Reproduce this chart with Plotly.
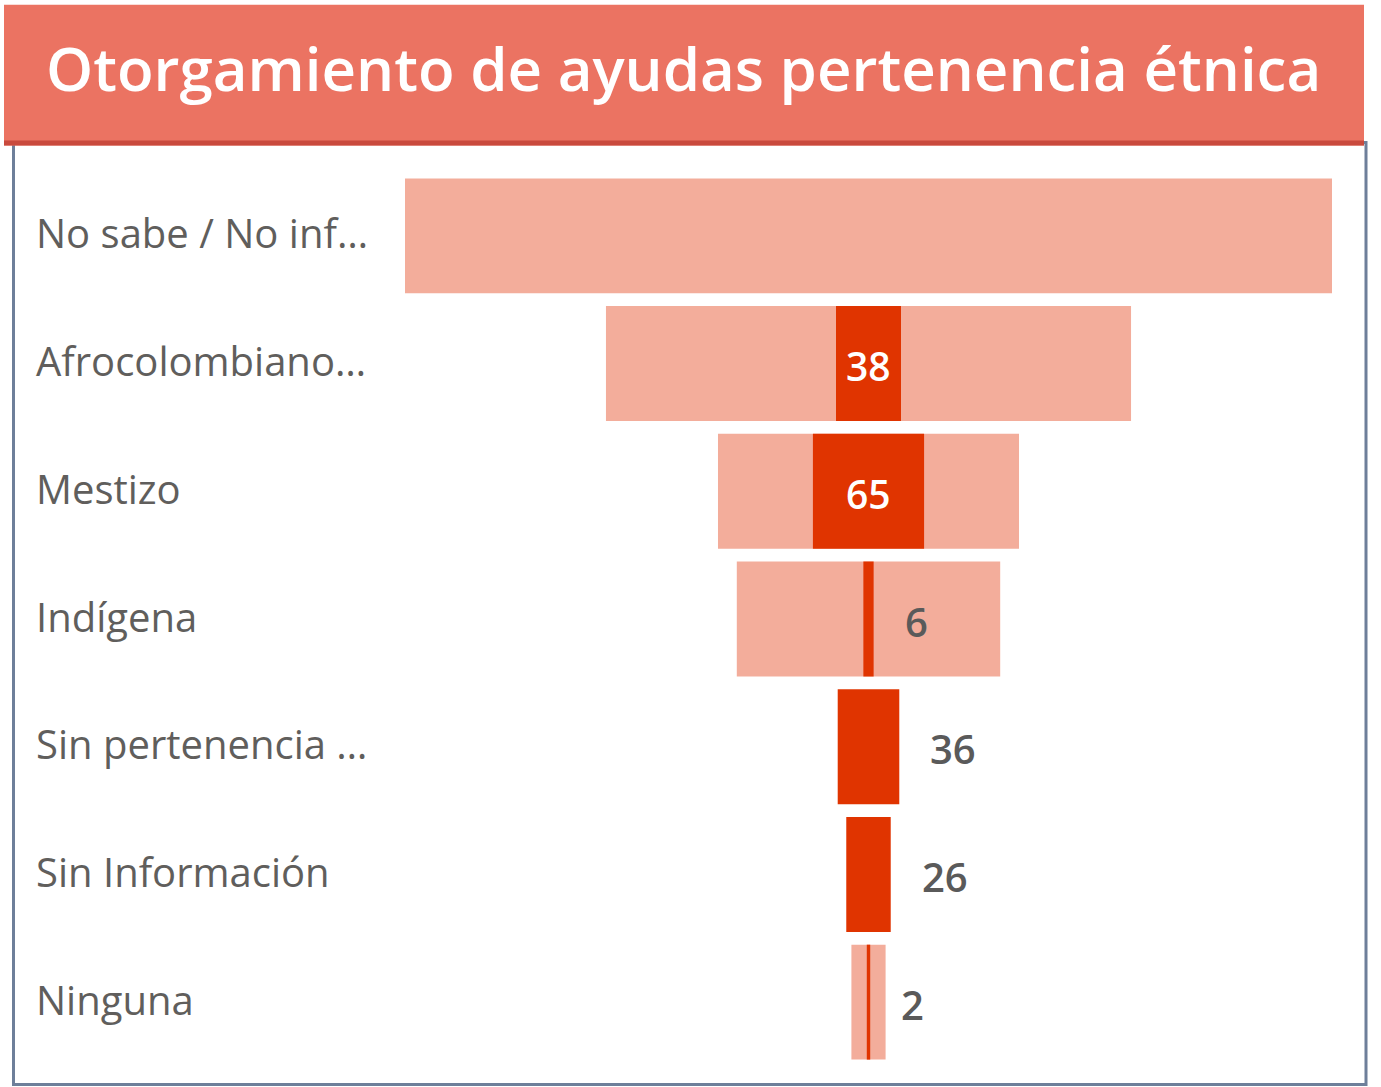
import plotly.graph_objects as go

categories = ["No sabe / No inf…", "Afrocolombiano…", "Mestizo", "Indígena",
              "Sin pertenencia …", "Sin Información", "Ninguna"]
totals = [542, 307, 176, 154, 0, 0, 20]        # light background bars
otorgadas = [0, 38, 65, 6, 36, 26, 2]          # dark foreground bars (labelled)
inside_labels = ["Afrocolombiano…", "Mestizo"]

W, H = 1381, 1087
L, R = 405, 1332          # plot area px
T, B = 171.5, 1066.5

def px(x):
    return (x - L) / (R - L)

def py(y):
    return (B - y) / (B - T)

fig = go.Figure()
fig.add_trace(go.Bar(
    y=categories, x=totals, base=[-v / 2 for v in totals], orientation="h",
    marker=dict(color="#F3AD9B", line=dict(width=0)), width=0.9,
    hoverinfo="skip", showlegend=False))
fig.add_trace(go.Bar(
    y=categories, x=otorgadas, base=[-v / 2 for v in otorgadas], orientation="h",
    marker=dict(color="#E03400", line=dict(width=0)), width=0.9,
    hoverinfo="skip", showlegend=False))

annotations = []
FONT = "Open Sans"
for c, v in zip(categories, otorgadas):
    if v <= 0:
        continue
    if c in inside_labels:
        annotations.append(dict(x=0, y=c, xref="x", yref="y", text=str(v), showarrow=False,
                                xanchor="center", yanchor="middle", yshift=-2,
                                font=dict(family=FONT, size=39, color="white", weight=600)))
    else:
        annotations.append(dict(x=v / 2, y=c, xref="x", yref="y", text=str(v), showarrow=False,
                                xanchor="left", yanchor="middle", xshift=29, yshift=-2,
                                font=dict(family=FONT, size=40, color="#5A5A5A", weight=600)))

for c in categories:
    annotations.append(dict(x=px(34), y=c, xref="paper", yref="y", text=c, showarrow=False,
                            xanchor="left", yanchor="middle", yshift=3,
                            font=dict(family=FONT, size=40, color="#605E5C")))

annotations.append(dict(x=px(683), y=py(67), xref="paper", yref="paper",
                        text="Otorgamiento de ayudas pertenencia étnica", showarrow=False,
                        xanchor="center", yanchor="middle",
                        font=dict(family=FONT, size=60, color="white", weight=600)))

shapes = [
    dict(type="rect", xref="paper", yref="paper", x0=px(13.5), x1=px(1366), y0=py(1085), y1=py(142),
         line=dict(color="#6E7F9A", width=3), fillcolor="rgba(0,0,0,0)", layer="below"),
    dict(type="rect", xref="paper", yref="paper", x0=px(4), x1=px(1364), y0=py(145), y1=py(4),
         line=dict(width=0), fillcolor="#EB7362", layer="below"),
    dict(type="rect", xref="paper", yref="paper", x0=px(4), x1=px(1364), y0=py(145), y1=py(140),
         line=dict(width=0), fillcolor="#C94A3D", layer="below"),
]

mx = max(totals + otorgadas)
fig.update_layout(
    width=W, height=H,
    margin=dict(l=L, r=W - R, t=T, b=H - B, pad=0),
    paper_bgcolor="white", plot_bgcolor="white",
    barmode="overlay", bargap=0.1,
    xaxis=dict(range=[-mx / 2, mx / 2], visible=False, fixedrange=True),
    yaxis=dict(categoryorder="array", categoryarray=categories, autorange="reversed",
               showticklabels=False, showgrid=False, zeroline=False, showline=False),
    annotations=annotations, shapes=shapes,
)

fig.write_html("out.html", config={"displayModeBar": False},
               post_script="document.body.style.margin='0';document.body.style.overflow='hidden';")
